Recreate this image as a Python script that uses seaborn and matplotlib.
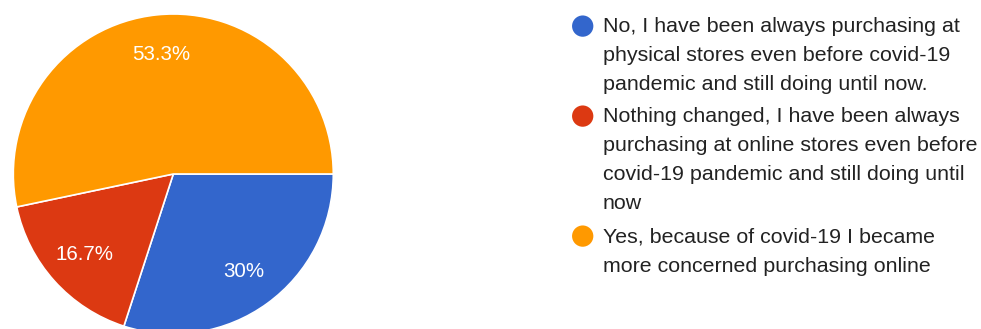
import matplotlib
matplotlib.use("Agg")
import matplotlib.pyplot as plt
import seaborn as sns

# Survey answers and their shares (percent)
answers = [
    "No, I have been always purchasing at\nphysical stores even before covid-19\npandemic and still doing until now.",
    "Nothing changed, I have been always\npurchasing at online stores even before\ncovid-19 pandemic and still doing until\nnow",
    "Yes, because of covid-19 I became\nmore concerned purchasing online",
]
shares = [30.0, 16.7, 53.3]
colors = ["#3366CC", "#DC3912", "#FF9900"]

sns.set_theme(style="white")
plt.rcParams["font.family"] = ["Liberation Sans", "DejaVu Sans"]
palette = sns.color_palette(colors)

W, H = 981, 329
fig = plt.figure(figsize=(W / 100, H / 100), dpi=100)
fig.patch.set_facecolor("white")

# Pie: centre (173, 174) px, radius 160 px
cx, cy, r = 173.3, 174.0, 160.0
m = 1.02
ax = fig.add_axes([(cx - r * m) / W, (H - cy - r * m) / H, 2 * r * m / W, 2 * r * m / H])


def fmt(p):
    s = f"{p:.1f}"
    if s.endswith(".0"):
        s = s[:-2]
    return s + "%"


wedges, texts, autotexts = ax.pie(
    shares,
    colors=palette,
    startangle=0,
    counterclock=False,
    autopct=fmt,
    pctdistance=0.75,
    wedgeprops=dict(edgecolor="white", linewidth=1.2),
    textprops=dict(color="white", fontsize=14.8),
)
ax.set_xlim(-m, m)
ax.set_ylim(-m, m)
ax.set_aspect("equal")

# Legend drawn in pixel coordinates on an overlay
lax = fig.add_axes([0, 0, 1, 1])
lax.set_xlim(0, W)
lax.set_ylim(H, 0)
lax.axis("off")

line_step = 28.5
first_baselines = [33.3, 123.3, 243.3]
for label, col, yb in zip(answers, palette, first_baselines):
    n = label.count("\n")
    lax.scatter([582.7], [yb - 7.2], s=235, color=col, edgecolor="none")
    lax.text(603, yb + n * line_step, label, fontsize=15.4, color="#222222",
             va="baseline", ha="left", linespacing=1.667)

fig.savefig("out.png", dpi=100, facecolor="white")
